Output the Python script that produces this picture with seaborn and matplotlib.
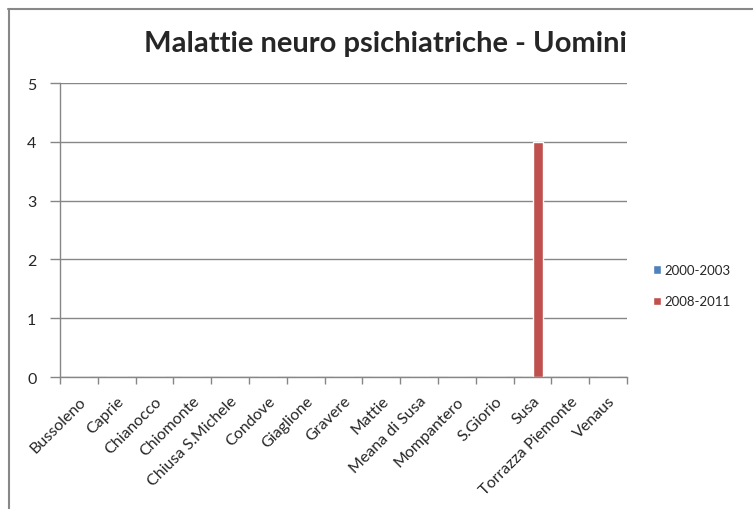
import pandas as pd
import numpy as np
import matplotlib.pyplot as plt
import seaborn as sns

comuni = ['Bussoleno', 'Caprie', 'Chianocco', 'Chiomonte', 'Chiusa S.Michele', 'Condove',
          'Giaglione', 'Gravere', 'Mattie', 'Meana di Susa', 'Mompantero', 'S.Giorio',
          'Susa', 'Torrazza Piemonte', 'Venaus']
periodi = ['2000-2003', '2008-2011']
casi_2000_2003 = [0, 0, 0, 0, 0, 0, 0, 0, 0, 0, 0, 0, 0, 0, 0]
casi_2008_2011 = [0, 0, 0, 0, 0, 0, 0, 0, 0, 0, 0, 0, 4, 0, 0]
colori = ['#4F81BD', '#C0504D']

df = pd.DataFrame({
    'comune': comuni * 2,
    'periodo': [periodi[0]] * len(comuni) + [periodi[1]] * len(comuni),
    'casi': casi_2000_2003 + casi_2008_2011,
})

sns.set_theme(style='white')
plt.rcParams['font.family'] = ['Lato', 'DejaVu Sans']

fig = plt.figure(figsize=(7.53, 5.10), dpi=100)
ax = fig.add_axes([60 / 753, 1 - 378 / 510, 567 / 753, 294 / 510])

sns.barplot(data=df, x='comune', y='casi', hue='periodo', palette=colori,
            width=0.55, ax=ax, legend=True, saturation=1)

grid = '#868686'
ax.set_ylim(0, 5)
ax.set_xlim(-0.5, len(comuni) - 0.5)
ax.set_yticks(range(6))
ax.yaxis.grid(True, color=grid, linewidth=1)
ax.set_axisbelow(True)
for s in ['top', 'right']:
    ax.spines[s].set_visible(False)
for s in ['left', 'bottom']:
    ax.spines[s].set_color(grid)
    ax.spines[s].set_linewidth(1)

ax.tick_params(axis='y', length=7, width=1, color=grid, labelsize=11.5, pad=10, left=True)
ax.tick_params(axis='x', which='major', length=0, labelsize=11.5, pad=12)
ax.set_xticks(np.arange(-0.5, len(comuni), 1), minor=True)
ax.tick_params(axis='x', which='minor', length=5, width=1, color=grid, bottom=True)
ax.set_xticks(range(len(comuni)))
ax.set_xticklabels(comuni, rotation=45, ha='right', rotation_mode='anchor')
ax.set_xlabel('')
ax.set_ylabel('')

leg = ax.legend(loc='center left', bbox_to_anchor=(1.025, 0.31), frameon=False,
                fontsize=9.5, handlelength=0.6, handleheight=0.6, handletextpad=0.3,
                labelspacing=1.45)

fig.text(0.512, 0.913, 'Malattie neuro psichiatriche - Uomini', ha='center', va='center',
         fontsize=21, fontweight='bold')

fig.add_artist(plt.Line2D([8 / 753, 1], [1 - 9.5 / 510, 1 - 9.5 / 510], color='#888888', lw=1.5))
fig.add_artist(plt.Line2D([8.5 / 753, 8.5 / 753], [0, 1 - 9.5 / 510], color='#888888', lw=1.5))

fig.savefig('out.png', dpi=100)
